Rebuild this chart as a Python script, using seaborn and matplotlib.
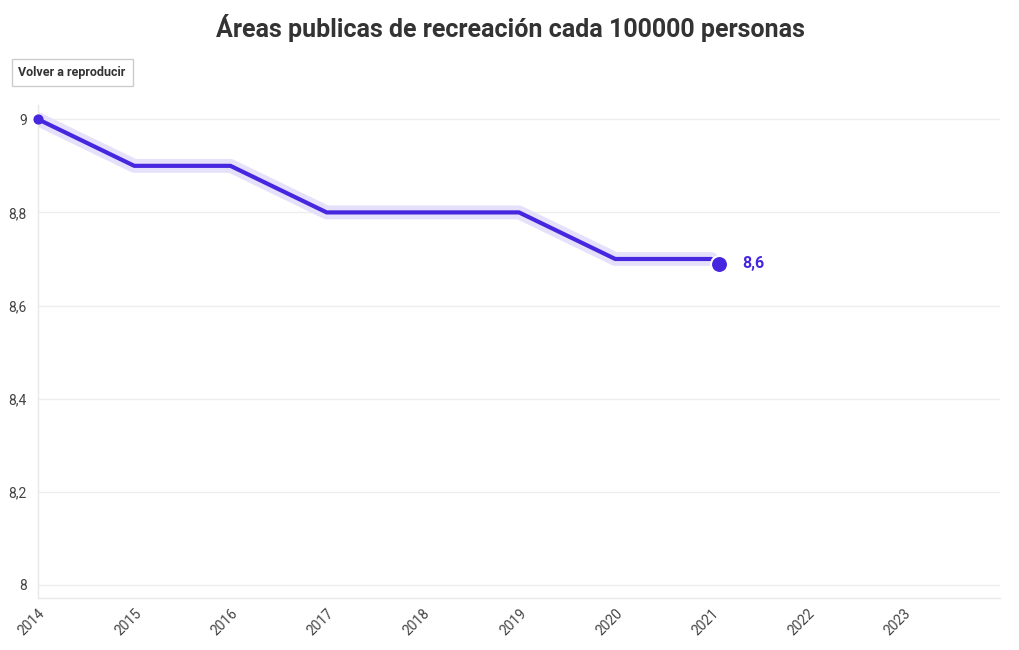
import matplotlib
matplotlib.use('Agg')

import matplotlib.pyplot as plt
import matplotlib.transforms as mtransforms
from matplotlib.ticker import FuncFormatter
import seaborn as sns
import pandas as pd

years = [2014, 2015, 2016, 2017, 2018, 2019, 2020, 2021]
values = [9.0, 8.9, 8.9, 8.8, 8.8, 8.8, 8.7, 8.7]
last_value = 8.69
last_label = "8,6"
title = "Áreas publicas de recreación cada 100000 personas"
button_text = "Volver a reproducir"
x_ticks = list(range(2014, 2024))
y_ticks = [8.0, 8.2, 8.4, 8.6, 8.8, 9.0]

line_color = "#4726e0"
halo_color = "#e6e1fa"
text_color = "#333333"

sns.set_theme(style="white")
plt.rcParams['font.family'] = ['Roboto', 'DejaVu Sans']

df = pd.DataFrame({"year": years, "value": values})

fig = plt.figure(figsize=(10.2, 6.5), dpi=100)
ax = fig.add_axes([0.0373, 0.08, 0.9431, 0.758])

# halo under the main line
sns.lineplot(data=df, x="year", y="value", ax=ax, color=halo_color,
             linewidth=10, solid_capstyle="round", solid_joinstyle="round",
             zorder=2)
sns.lineplot(data=df, x="year", y="value", ax=ax, color=line_color,
             linewidth=3, solid_joinstyle="round", zorder=3)

# start dot
ax.scatter([years[0]], [values[0]], s=40, color=line_color, zorder=4,
           clip_on=False)

# end dot and label, shifted slightly right of the last point
shift = mtransforms.ScaledTranslation(8 / 100, 0, fig.dpi_scale_trans)
ax.scatter([years[-1]], [last_value], s=150, color=line_color, zorder=5,
           edgecolor="white", linewidth=1.5, transform=ax.transData + shift)
ax.annotate(last_label, (years[-1], last_value), xytext=(22, 0),
            textcoords="offset points", color=line_color, fontsize=11.5,
            fontweight="bold", va="center", ha="left")

ax.set_xlim(2014, 2024)
ax.set_ylim(7.972, 9.03)
ax.set_xticks(x_ticks)
ax.set_xticklabels([str(y) for y in x_ticks], rotation=45, ha="right",
                   rotation_mode="anchor", color="#444444", fontsize=10)
ax.set_yticks(y_ticks)
ax.yaxis.set_major_formatter(FuncFormatter(
    lambda v, p: f"{v:g}".replace(".", ",")))
ax.tick_params(axis="y", colors="#444444", labelsize=10, length=0, pad=8)
ax.tick_params(axis="x", colors="#e6e6e6", labelcolor="#444444",
               length=4, width=1, pad=2)
ax.set_xlabel("")
ax.set_ylabel("")
ax.grid(axis="y", color="#eeeeee", linewidth=1)
ax.grid(axis="x", visible=False)
for side in ["top", "right"]:
    ax.spines[side].set_visible(False)
for side in ["left", "bottom"]:
    ax.spines[side].set_color("#e8e8e8")
    ax.spines[side].set_linewidth(1)

fig.text(0.5, 0.957, title, ha="center", va="center", fontsize=18,
         fontweight="bold", color=text_color)
fig.text(0.0706, 0.889, button_text, ha="center", va="center", fontsize=9,
         fontweight="bold", color=text_color,
         bbox=dict(boxstyle="square,pad=0.55", facecolor="white",
                   edgecolor="#cccccc", linewidth=1))

fig.savefig("out.png", dpi=100)
plt.close(fig)
